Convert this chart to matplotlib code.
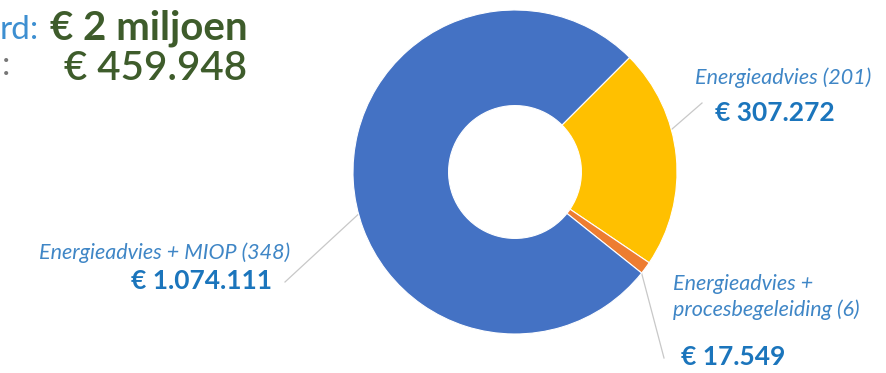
import numpy as np
import matplotlib
matplotlib.use("Agg")
import matplotlib.pyplot as plt

# data
categories = ["Energieadvies (201)", "Energieadvies +\nprocesbegeleiding (6)", "Energieadvies + MIOP (348)"]
amounts = [307272, 17549, 1074111]
amount_labels = ["€ 307.272", "€ 17.549", "€ 1.074.111"]
colors = ["#FFC000", "#ED7D31", "#4472C4"]
header_prefix = ["rd:", ":"]
header_values = ["€ 2 miljoen", "€ 459.948"]

W, H = 887, 373
plt.rcParams["font.family"] = ["Lato", "DejaVu Sans"]

fig = plt.figure(figsize=(W / 100, H / 100), dpi=100)
ax = fig.add_axes([0, 0, 1, 1])

cx, cy, R = 515, H - 172, 162
wedges, _ = ax.pie(
    amounts,
    colors=colors,
    startangle=45,
    counterclock=False,
    center=(cx, cy),
    radius=R,
    wedgeprops=dict(width=R * 0.59, edgecolor="white", linewidth=0.8),
)
ax.set_xlim(0, W)
ax.set_ylim(0, H)
ax.set_aspect("equal")
ax.axis("off")

label_blue = "#3f86c6"
value_blue = "#1b75bc"
line_grey = "#c8c8c8"


def anchor(wedge, frac):
    ang = np.deg2rad((wedge.theta1 + wedge.theta2) / 2)
    return cx + frac * R * np.cos(ang), cy + frac * R * np.sin(ang)


# leader lines
leaders = [(0.75, (702, H - 103)), (0.95, (664, H - 358)), (0.73, (285, H - 282))]
for wedge, (frac, end) in zip(wedges, leaders):
    x0, y0 = anchor(wedge, frac)
    ax.plot([x0, end[0]], [y0, end[1]], color=line_grey, lw=0.9, zorder=0.5)

# labels
lab_fs = 15.5
val_fs = 19
ax.text(695, H - 78, categories[0], color=label_blue, style="italic", fontsize=lab_fs, va="center", ha="left")
ax.text(715, H - 113, amount_labels[0], color=value_blue, fontweight="bold", fontsize=val_fs, va="center", ha="left")

ax.text(673, H - 297, categories[1], color=label_blue, style="italic", fontsize=lab_fs, va="center", ha="left",
        linespacing=1.35)
ax.text(681, H - 357, amount_labels[1], color=value_blue, fontweight="bold", fontsize=val_fs, va="center", ha="left")

ax.text(290, H - 253, categories[2], color=label_blue, style="italic", fontsize=lab_fs, va="center", ha="right")
ax.text(272, H - 281, amount_labels[2], color=value_blue, fontweight="bold", fontsize=val_fs, va="center", ha="right")

# header
green = "#3e5c2b"
ax.text(0, H - 30, header_prefix[0], color="#3d8fd1", fontsize=24, va="center", ha="left")
ax.text(50, H - 28, header_values[0], color=green, fontweight="bold", fontsize=29, va="center", ha="left")
ax.text(2, H - 66, header_prefix[1], color="#777777", fontsize=24, va="center", ha="left")
ax.text(64, H - 68, header_values[1], color=green, fontweight="semibold", fontsize=29, va="center", ha="left")

fig.savefig("out.png", dpi=100)
